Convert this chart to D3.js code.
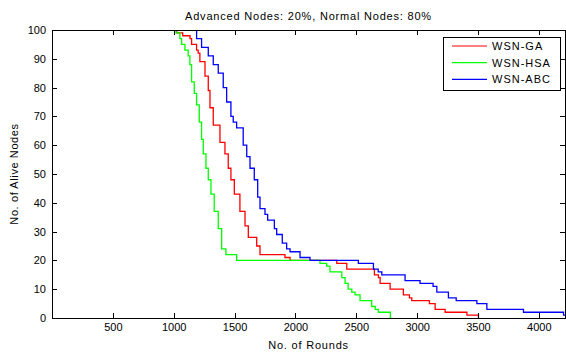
<!DOCTYPE html>
<html>
<head>
<meta charset="utf-8">
<script src="https://cdn.jsdelivr.net/npm/d3@7"></script>
<style>
  body { margin: 0; background: #fff; }
  text { font-family: "Liberation Sans", Arial, sans-serif; fill: #000; }
</style>
</head>
<body>
<div id="plot"></div>
<script>
// Alive nodes per round, read as step points (round where the count changes, new count)
let gaRounds  = [0, 1025, 1074, 1134, 1147, 1188, 1201, 1215, 1257, 1284, 1298, 1325, 1380, 1421, 1448, 1470, 1498, 1544, 1586, 1613, 1682, 1709, 1914, 1956, 2340, 2422, 2649, 2682, 2696, 2778, 2887, 2937, 2956, 3101, 3148, 3230, 3409, 3504];
let gaAlive   = [100, 99, 98, 97, 95, 93, 92, 89, 84, 79, 73, 67, 61, 57, 52, 48, 43, 37, 32, 28, 25, 22, 21, 20, 19, 17, 15, 14, 12, 10, 8, 7, 6, 5, 3, 2, 1, 0];

let hsaRounds = [0, 1018, 1051, 1065, 1092, 1119, 1133, 1147, 1169, 1188, 1210, 1229, 1243, 1265, 1284, 1306, 1333, 1366, 1394, 1429, 1517, 2202, 2257, 2284, 2381, 2408, 2433, 2463, 2490, 2531, 2627, 2656, 2681, 2780];
let hsaAlive  = [100, 99, 97, 95, 93, 91, 88, 82, 78, 74, 68, 62, 57, 52, 48, 43, 37, 31, 24, 22, 20, 19, 18, 16, 14, 12, 10, 9, 8, 6, 4, 3, 2, 0];

let abcRounds = [0, 1188, 1229, 1284, 1325, 1366, 1407, 1435, 1470, 1489, 1517, 1571, 1600, 1627, 1662, 1690, 1709, 1750, 1772, 1827, 1846, 1892, 1928, 1956, 2038, 2120, 2517, 2641, 2680, 2710, 2901, 3024, 3131, 3162, 3257, 3321, 3491, 3573, 3874, 4203, 4215];
let abcAlive  = [100, 97, 94, 91, 88, 85, 80, 75, 70, 68, 66, 60, 56, 52, 48, 42, 38, 36, 34, 31, 29, 26, 24, 23, 21, 20, 19, 17, 16, 15, 13, 12, 11, 9, 7, 6, 5, 3, 2, 1, 1];

let seriesNames  = ["WSN-GA", "WSN-HSA", "WSN-ABC"];
let seriesColors = ["#ff0000", "#00ff00", "#0000ff"];

let xTicks = [500, 1000, 1500, 2000, 2500, 3000, 3500, 4000];
let yTicks = [0, 10, 20, 30, 40, 50, 60, 70, 80, 90, 100];

let width = 566,
    height = 352;
let margin = {left: 52, right: 1, top: 30, bottom: 34};

let svg = d3.select("#plot")
    .append("svg")
    .attr("width", width)
    .attr("height", height);

svg.append("rect").attr("width", width).attr("height", height).attr("fill", "#fff");

let x = d3.scaleLinear()
    .domain([0, 4215])
    .range([margin.left, width - margin.right]);

let y = d3.scaleLinear()
    .domain([0, 100])
    .range([height - margin.bottom, margin.top]);

// clip the curves to the axes box
svg.append("clipPath").attr("id", "clip")
    .append("rect")
    .attr("x", x.range()[0]).attr("y", y.range()[1])
    .attr("width", x.range()[1] - x.range()[0])
    .attr("height", y.range()[0] - y.range()[1]);

let series = [
    {name: seriesNames[0], color: seriesColors[0], rounds: gaRounds, alive: gaAlive},
    {name: seriesNames[1], color: seriesColors[1], rounds: hsaRounds, alive: hsaAlive},
    {name: seriesNames[2], color: seriesColors[2], rounds: abcRounds, alive: abcAlive}
];

let line = d3.line()
    .x(d => x(d[0]))
    .y(d => y(d[1]))
    .curve(d3.curveStepAfter);

svg.append("g")
    .attr("clip-path", "url(#clip)")
    .selectAll("path")
    .data(series)
    .enter()
    .append("path")
    .attr("d", s => line(s.rounds.map((r, i) => [r, s.alive[i]])))
    .attr("fill", "none")
    .attr("stroke", s => s.color)
    .attr("stroke-width", 1.3);

// axes: ticks point inward, labels only on bottom and left
function styleAxis(g) {
    g.attr("font-family", null).attr("font-size", null);
    g.select(".domain").remove();
    g.selectAll("line").attr("stroke", "#000").attr("shape-rendering", "crispEdges");
    g.selectAll("text").style("font-size", "11px");
}

svg.append("g")
    .attr("transform", `translate(0, ${y(0)})`)
    .call(d3.axisBottom(x).tickValues(xTicks).tickFormat(d3.format("d"))
        .tickSizeInner(-5).tickSizeOuter(0).tickPadding(5))
    .call(styleAxis);

svg.append("g")
    .attr("transform", `translate(0, ${y(100)})`)
    .call(d3.axisTop(x).tickValues(xTicks).tickSizeInner(-5).tickSizeOuter(0).tickFormat(""))
    .call(styleAxis);

svg.append("g")
    .attr("transform", `translate(${x(0)}, 0)`)
    .call(d3.axisLeft(y).tickValues(yTicks).tickFormat(d3.format("d"))
        .tickSizeInner(-5).tickSizeOuter(0).tickPadding(6))
    .call(styleAxis);

svg.append("g")
    .attr("transform", `translate(${x.range()[1]}, 0)`)
    .call(d3.axisRight(y).tickValues(yTicks).tickSizeInner(-5).tickSizeOuter(0).tickFormat(""))
    .call(styleAxis);

// axes box
svg.append("rect")
    .attr("x", x.range()[0]).attr("y", y.range()[1])
    .attr("width", x.range()[1] - x.range()[0])
    .attr("height", y.range()[0] - y.range()[1])
    .attr("fill", "none")
    .attr("stroke", "#000")
    .attr("shape-rendering", "crispEdges");

// title and axis labels
let midX = (x.range()[0] + x.range()[1]) / 2;
svg.append("text")
    .attr("x", midX).attr("y", 20)
    .style("text-anchor", "middle")
    .style("font-size", "11px")
    .style("letter-spacing", "0.8px")
    .text("Advanced Nodes: 20%, Normal Nodes: 80%");

svg.append("text")
    .attr("x", midX).attr("y", 349)
    .style("text-anchor", "middle")
    .style("font-size", "11px")
    .style("letter-spacing", "0.8px")
    .text("No. of Rounds");

svg.append("text")
    .attr("transform", `translate(18, ${(y.range()[0] + y.range()[1]) / 2}) rotate(-90)`)
    .style("text-anchor", "middle")
    .style("font-size", "11px")
    .style("letter-spacing", "0.6px")
    .text("No. of Alive Nodes");

// legend
let legend = svg.append("g").attr("transform", "translate(443, 37)");
legend.append("rect")
    .attr("width", 117).attr("height", 53)
    .attr("fill", "#fff").attr("stroke", "#000")
    .attr("shape-rendering", "crispEdges");

let items = legend.selectAll("g.item")
    .data(series)
    .enter()
    .append("g")
    .attr("class", "item")
    .attr("transform", (d, i) => `translate(0, ${9 + i * 16.7})`);

items.append("line")
    .attr("x1", 9).attr("x2", 44)
    .attr("stroke", d => d.color)
    .attr("stroke-width", 1.2);

items.append("text")
    .attr("x", 49).attr("y", 4)
    .style("font-size", "11px")
    .style("letter-spacing", "1px")
    .text(d => d.name);
</script>
</body>
</html>
